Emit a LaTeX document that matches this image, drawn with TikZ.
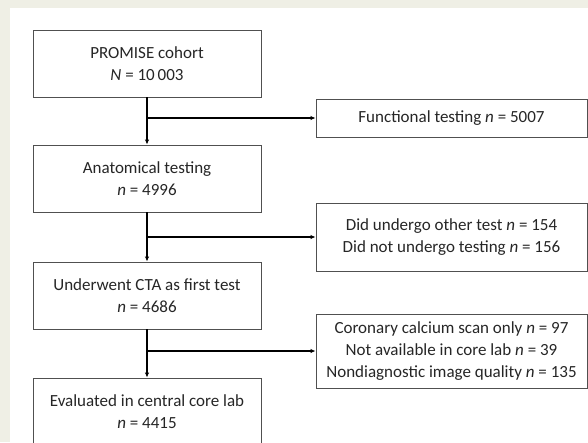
\documentclass[tikz,border=0pt]{standalone}
\usepackage{fontspec}
\setmainfont{Carlito}
\usepackage{tikz}
\usetikzlibrary{arrows.meta}
\usepackage{xcolor}
\definecolor{pagebg}{RGB}{239,239,229}
\definecolor{boxline}{RGB}{80,80,80}

\tikzset{
  flowbox/.style={draw=boxline, line width=0.9pt, fill=white, align=center,
    text=black!85, font=\fontsize{17}{22}\selectfont, inner sep=0pt},
  mainbox/.style={flowbox, minimum width=228pt, minimum height=67pt},
  sidebox/.style={flowbox, minimum width=271pt},
  flowarrow/.style={line width=1.1pt, -{Latex[length=5pt,width=4.5pt]}}
}

\begin{document}
\begin{tikzpicture}[x=1pt,y=-1pt]
\useasboundingbox (0,0) rectangle (588,442);
\clip (0,0) rectangle (588,442);
\fill[pagebg] (0,0) rectangle (588,442);
\fill[white] (10,8) rectangle (588,442);
% main column
\node[mainbox] (cohort) at (147,63.5) {PROMISE cohort\\\textit{N} = 10\,003};
\node[mainbox] (anat) at (147,178.5) {Anatomical testing\\\textit{n} = 4996};
\node[mainbox] (cta) at (147,295.5) {Underwent CTA as first test\\\textit{n} = 4686};
\node[mainbox] (core) at (147,411.5) {Evaluated in central core lab\\\textit{n} = 4415};
% exclusions
\node[sidebox, minimum height=38pt] (func) at (451.5,118) {Functional testing \textit{n} = 5007};
\node[sidebox, minimum height=68pt] (other) at (451.5,237) {Did undergo other test \textit{n} = 154\\Did not undergo testing \textit{n} = 156};
\node[sidebox, minimum height=74pt] (lab) at (451.5,351) {Coronary calcium scan only \textit{n} = 97\\Not available in core lab \textit{n} = 39\\Nondiagnostic image quality \textit{n} = 135};
\coordinate (b1) at (147,118);
\coordinate (b2) at (147,237);
\coordinate (b3) at (147,351);
\draw[flowarrow] (cohort) -- (anat);
\draw[flowarrow] (anat) -- (cta);
\draw[flowarrow] (cta) -- (core);
\draw[flowarrow] (b1) -- (b1 -| func.west);
\draw[flowarrow] (b2) -- (b2 -| other.west);
\draw[flowarrow] (b3) -- (b3 -| lab.west);
\end{tikzpicture}
\end{document}
